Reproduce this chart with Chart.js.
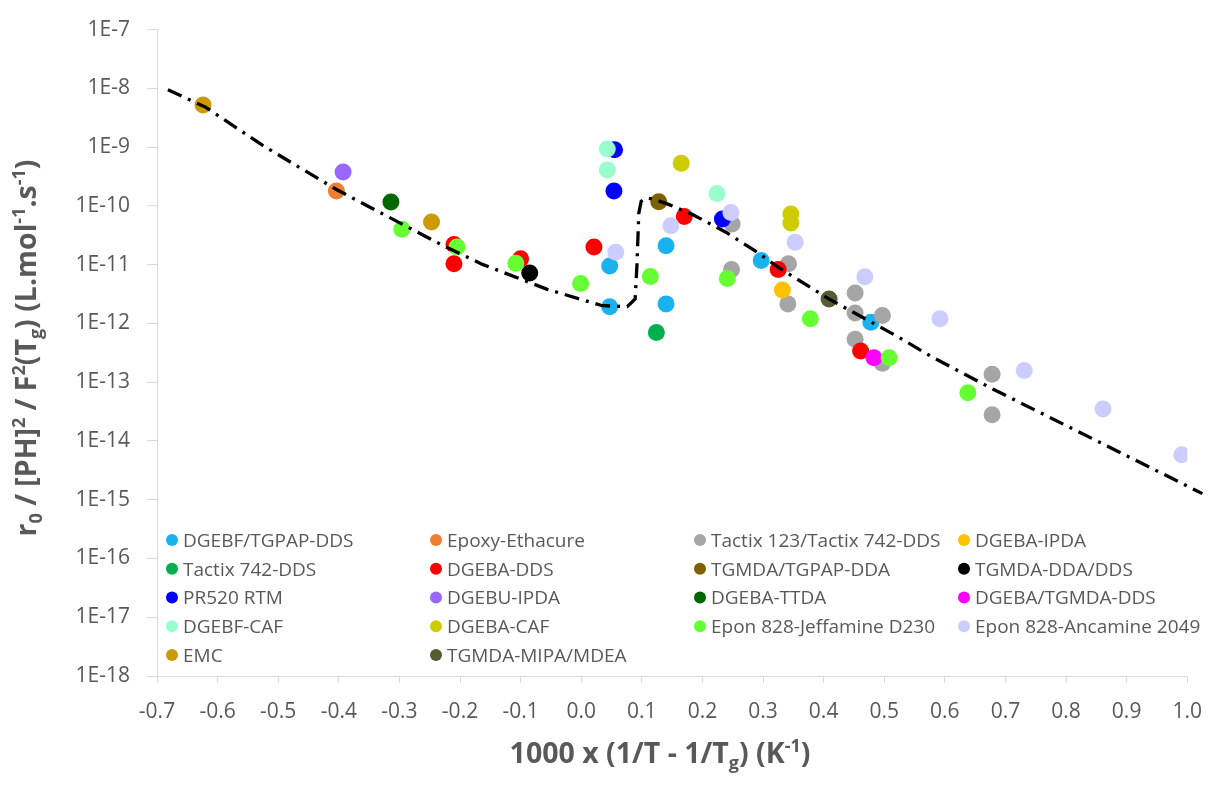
<!DOCTYPE html>
<html>
<head>
<meta charset="utf-8">
<title>r0 / [PH]2 / F2(Tg) vs 1000 x (1/T - 1/Tg)</title>
<script src="https://cdn.jsdelivr.net/npm/chart.js@4.4.1/dist/chart.umd.min.js"></script>
<style>
  html, body { margin: 0; padding: 0; background: #fff; }
  #wrap { width: 1218px; height: 785px; }
</style>
</head>
<body>
<div id="wrap"><canvas id="chart" width="1218" height="785"></canvas></div>
<script>
// ─── series (legend order) ─────────────────────────
const seriesLabels = [
  'DGEBF/TGPAP-DDS', 'Epoxy-Ethacure', 'Tactix 123/Tactix 742-DDS', 'DGEBA-IPDA',
  'Tactix 742-DDS', 'DGEBA-DDS', 'TGMDA/TGPAP-DDA', 'TGMDA-DDA/DDS',
  'PR520 RTM', 'DGEBU-IPDA', 'DGEBA-TTDA', 'DGEBA/TGMDA-DDS',
  'DGEBF-CAF', 'DGEBA-CAF', 'Epon 828-Jeffamine D230', 'Epon 828-Ancamine 2049',
  'EMC', 'TGMDA-MIPA/MDEA'
];
const seriesColors = [
  '#1ab2ec', '#ed7d31', '#a5a5a5', '#ffc000',
  '#00b050', '#ff0000', '#7f6000', '#000000',
  '#0000ff', '#9966ff', '#006600', '#ff00ff',
  '#99ffcc', '#cccc00', '#66ff33', '#ccccff',
  '#cc9900', '#595933'
];

// [x, y] : x = 1000 x (1/T - 1/Tg) in K-1, y = r0/[PH]^2/F^2(Tg)
const dgebfTgpapDds  = [[0.047, 9.5e-12], [0.140, 2.1e-11], [0.047, 1.93e-12], [0.140, 2.15e-12], [0.297, 1.18e-11], [0.478, 1.05e-12]];
const epoxyEthacure  = [[-0.404, 1.8e-10]];
const tactix123      = [[0.249, 4.9e-11], [0.248, 8.3e-12], [0.342, 1.04e-11], [0.341, 2.15e-12], [0.452, 3.3e-12], [0.452, 1.5e-12],
                        [0.497, 1.36e-12], [0.452, 5.4e-13], [0.497, 2.1e-13], [0.678, 1.37e-13], [0.678, 2.8e-14]];
const dgebaIpda      = [[0.332, 3.7e-12]];
const tactix742Dds   = [[0.124, 7.0e-13]];
const dgebaDds       = [[-0.210, 2.2e-11], [-0.210, 1.04e-11], [-0.100, 1.26e-11], [0.021, 2.0e-11], [0.170, 6.6e-11], [0.325, 8.3e-12], [0.461, 3.4e-13]];
const tgmdaTgpapDda  = [[0.128, 1.18e-10]];
const tgmdaDdaDds    = [[-0.085, 7.2e-12]];
const pr520Rtm       = [[0.055, 9.0e-10], [0.054, 1.8e-10], [0.233, 6.0e-11]];
const dgebuIpda      = [[-0.393, 3.77e-10]];
const dgebaTtda      = [[-0.314, 1.16e-10]];
const dgebaTgmdaDds  = [[0.483, 2.6e-13]];
const dgebfCaf       = [[0.043, 9.3e-10], [0.043, 4.1e-10], [0.224, 1.63e-10]];
const dgebaCaf       = [[0.165, 5.3e-10], [0.346, 7.3e-11], [0.346, 5.1e-11]];
const jeffamineD230  = [[-0.296, 4.0e-11], [-0.205, 2.0e-11], [-0.108, 1.06e-11], [-0.001, 4.8e-12], [0.114, 6.3e-12],
                        [0.241, 5.8e-12], [0.378, 1.2e-12], [0.508, 2.6e-13], [0.638, 6.6e-14]];
const ancamine2049   = [[0.057, 1.63e-11], [0.148, 4.6e-11], [0.247, 7.7e-11], [0.353, 2.4e-11], [0.468, 6.2e-12],
                        [0.592, 1.2e-12], [0.731, 1.58e-13], [0.861, 3.5e-14], [0.991, 5.8e-15]];
const emc            = [[-0.624, 5.2e-9], [-0.247, 5.3e-11]];
const tgmdaMipaMdea  = [[0.409, 2.6e-12]];

const seriesData = [
  dgebfTgpapDds, epoxyEthacure, tactix123, dgebaIpda,
  tactix742Dds, dgebaDds, tgmdaTgpapDda, tgmdaDdaDds,
  pr520Rtm, dgebuIpda, dgebaTtda, dgebaTgmdaDds,
  dgebfCaf, dgebaCaf, jeffamineD230, ancamine2049,
  emc, tgmdaMipaMdea
];

// model curve (dash-dot)
const modelCurve = [
  [-0.682, 9.5e-9], [-0.620, 4.8e-9], [-0.525, 1.06e-9], [-0.404, 1.9e-10], [-0.347, 9.3e-11],
  [-0.226, 2.06e-11], [-0.163, 1.01e-11], [-0.056, 3.8e-12], [0.035, 2.0e-12], [0.076, 1.93e-12],
  [0.089, 2.6e-12], [0.092, 1.0e-11], [0.095, 7.5e-11], [0.099, 1.2e-10], [0.107, 1.37e-10],
  [0.120, 1.3e-10], [0.144, 1.06e-10], [0.183, 7.2e-11], [0.238, 3.6e-11], [0.292, 1.59e-11],
  [0.325, 9.0e-12], [0.409, 2.6e-12], [0.478, 1.06e-12], [0.523, 5.9e-13], [0.578, 2.72e-13],
  [0.679, 7.66e-14], [0.852, 9.9e-15], [1.025, 1.27e-15]
];

// ─── axes ─────────────────────────────────────────
const xTicks = [-0.7, -0.6, -0.5, -0.4, -0.3, -0.2, -0.1, 0.0, 0.1, 0.2, 0.3, 0.4, 0.5, 0.6, 0.7, 0.8, 0.9, 1.0];
const xTickLabels = ['-0.7', '-0.6', '-0.5', '-0.4', '-0.3', '-0.2', '-0.1', '0.0', '0.1',
                     '0.2', '0.3', '0.4', '0.5', '0.6', '0.7', '0.8', '0.9', '1.0'];
const yTicks = [1e-7, 1e-8, 1e-9, 1e-10, 1e-11, 1e-12, 1e-13, 1e-14, 1e-15, 1e-16, 1e-17, 1e-18];
const yTickLabels = ['1E-7', '1E-8', '1E-9', '1E-10', '1E-11', '1E-12',
                     '1E-13', '1E-14', '1E-15', '1E-16', '1E-17', '1E-18'];

// titles, with sub/superscript runs
const xTitle = [['1000 x (1/T - 1/T'], ['g', 'sub'], [') (K'], ['-1', 'sup'], [')']];
const yTitle = [['r'], ['0', 'sub'], [' / [PH]'], ['2', 'sup'], [' / F'], ['2', 'sup'], ['(T'], ['g', 'sub'],
                [') (L.mol'], ['-1', 'sup'], ['.s'], ['-1', 'sup'], [')']];

const FONT = '"Open Sans", "DejaVu Sans", sans-serif';
const TEXT = '#595959';
const AXIS = '#d9d9d9';

// draws a line of text with sub/sup runs, centred on (x, y)
function drawRich(ctx, runs, size, x, y, vertical) {
  const big = `bold ${size}px ${FONT}`;
  const small = `bold ${Math.round(size * 0.62)}px ${FONT}`;
  ctx.save();
  ctx.translate(x, y);
  if (vertical) ctx.rotate(-Math.PI / 2);
  let total = 0;
  runs.forEach(([t, k]) => { ctx.font = k ? small : big; total += ctx.measureText(t).width; });
  let cx = -total / 2;
  ctx.fillStyle = TEXT;
  ctx.textBaseline = 'alphabetic';
  ctx.textAlign = 'left';
  runs.forEach(([t, k]) => {
    ctx.font = k ? small : big;
    const dy = k === 'sub' ? size * 0.2 : (k === 'sup' ? -size * 0.38 : 0);
    ctx.fillText(t, cx, size * 0.36 + dy);
    cx += ctx.measureText(t).width;
  });
  ctx.restore();
}

// legend inside the plot + axis titles
const overlay = {
  id: 'overlay',
  afterDraw(chart) {
    const { ctx, chartArea: a } = chart;
    const cols = 4, x0 = a.left + 15, colStep = 264, y0 = 540, rowStep = 28.75, size = 19;
    ctx.save();
    seriesLabels.forEach((label, i) => {
      const cx = x0 + (i % cols) * colStep;
      const cy = y0 + Math.floor(i / cols) * rowStep;
      ctx.beginPath();
      ctx.arc(cx, cy, 6, 0, Math.PI * 2);
      ctx.fillStyle = seriesColors[i];
      ctx.fill();
      ctx.font = `${size}px ${FONT}`;
      ctx.fillStyle = TEXT;
      ctx.textBaseline = 'alphabetic';
      ctx.fillText(label, cx + 11, cy + size * 0.36);
    });
    ctx.restore();

    drawRich(ctx, xTitle, 28.5, 660, 753, false);
    drawRich(ctx, yTitle, 28.5, 26, 348, true);
  }
};

const datasets = seriesData.map((pts, i) => ({
  type: 'scatter',
  label: seriesLabels[i],
  data: pts.map(([x, y]) => ({ x, y })),
  backgroundColor: seriesColors[i],
  pointBackgroundColor: seriesColors[i],
  pointBorderWidth: 0,
  borderWidth: 0,
  pointRadius: 8.5,
  pointHoverRadius: 8.5,
  order: seriesData.length - i
}));

datasets.push({
  type: 'line',
  label: 'model',
  data: modelCurve.map(([x, y]) => ({ x, y })),
  borderColor: '#000',
  borderWidth: 3.3,
  borderDash: [15, 7, 3, 7],
  borderCapStyle: 'butt',
  pointRadius: 0,
  tension: 0,
  fill: false,
  clip: false,
  order: 0
});

new Chart(document.getElementById('chart'), {
  type: 'scatter',
  data: { datasets },
  options: {
    responsive: false,
    animation: false,
    events: [],
    layout: { padding: { top: 23, right: 28, left: 0, bottom: 0 } },
    plugins: { legend: { display: false }, tooltip: { enabled: false }, title: { display: false } },
    scales: {
      x: {
        type: 'linear',
        min: -0.7,
        max: 1.0,
        afterBuildTicks: s => { s.ticks = xTicks.map(v => ({ value: v })); },
        afterFit: s => { s.height = 109; },
        grid: { drawOnChartArea: false, drawTicks: true, tickLength: 7, color: AXIS },
        border: { color: AXIS, width: 1 },
        ticks: {
          autoSkip: false, maxRotation: 0, padding: 16,
          color: TEXT, font: { family: FONT, size: 21 },
          callback: (v, i) => xTickLabels[i]
        }
      },
      y: {
        type: 'logarithmic',
        min: 1e-18,
        max: 1e-7,
        afterBuildTicks: s => { s.ticks = yTicks.map(v => ({ value: v })); },
        afterFit: s => { s.width = 157; },
        grid: { drawOnChartArea: false, drawTicks: true, tickLength: 10, color: AXIS },
        border: { color: AXIS, width: 1 },
        ticks: {
          autoSkip: false, padding: 17,
          color: TEXT, font: { family: FONT, size: 21 },
          callback: (v, i) => yTickLabels[i]
        }
      }
    }
  },
  plugins: [overlay]
});
</script>
</body>
</html>
